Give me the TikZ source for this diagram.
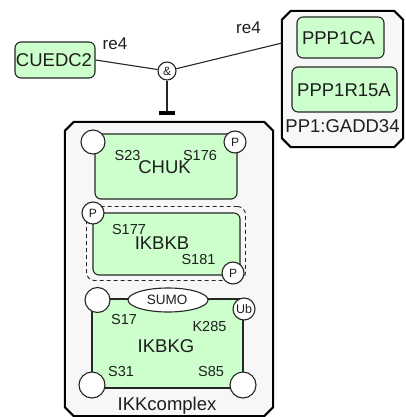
\documentclass[tikz,border=0pt]{standalone}
\usepackage{fontspec}
\setmainfont{Liberation Sans}
\usetikzlibrary{shapes.misc,shapes.geometric,calc}
\definecolor{protfill}{HTML}{CCFFCC}
\definecolor{cplxfill}{HTML}{F7F7F7}
\definecolor{txt}{HTML}{1E1E1E}
\tikzset{
  cplxarea/.style={rectangle, inner sep=0pt},
  cplxline/.style={draw=black, line width=2pt, fill=cplxfill, line join=round},
  prot/.style={rectangle, rounded corners=6pt, draw=black!85, line width=1.1pt, fill=protfill, inner sep=0pt},
  sqprot/.style={rectangle, draw=black!85, line width=1.1pt, fill=protfill, inner sep=0pt},
  activebox/.style={rectangle, rounded corners=8pt, draw=black!85, line width=0.9pt, dash pattern=on 4pt off 3pt, inner sep=0pt},
  site/.style={circle, draw=black!85, line width=1.1pt, fill=white, inner sep=0pt, text=txt, font=\fontsize{12}{12}\selectfont},
  bigtxt/.style={anchor=base, inner sep=0pt, text=txt, font=\fontsize{18.5}{20}\selectfont},
  sitetxt/.style={anchor=base, inner sep=0pt, text=txt, font=\fontsize{14.5}{16}\selectfont},
  conn/.style={draw=black!85, line width=1.1pt},
}
\newcommand{\chamferbox}[2]{% #1 node name, #2 chamfer
  \path[cplxline] ($(#1.north west)+(#2,0)$) -- ($(#1.north east)+(-#2,0)$) -- ($(#1.north east)+(0,#2)$)
    -- ($(#1.south east)+(0,-#2)$) -- ($(#1.south east)+(-#2,0)$) -- ($(#1.south west)+(#2,0)$)
    -- ($(#1.south west)+(0,-#2)$) -- ($(#1.north west)+(0,#2)$) -- cycle;}
\begin{document}
\begin{tikzpicture}[x=1pt,y=-1pt]
\useasboundingbox (0,0) rectangle (405,417);
% complexes
\node[cplxarea, minimum width=208pt, minimum height=294pt] (ikk) at (169,269) {};
\node[cplxarea, minimum width=121pt, minimum height=136pt] (pp1) at (342.5,79) {};
\chamferbox{ikk}{9}
\chamferbox{pp1}{9}
% PP1 members
\node[prot, minimum width=87pt, minimum height=41pt] (ppp1ca) at (340.5,37.5) {};
\node[bigtxt] (ppp1catxt) at (338.5,45) {PPP1CA};
\node[prot, minimum width=105pt, minimum height=45pt] (ppp1r15a) at (344.5,89.5) {};
\node[bigtxt] (ppp1r15atxt) at (344,97) {PPP1R15A};
\node[bigtxt] (pp1txt) at (342.5,132) {PP1:GADD34};
% CUEDC2
\node[prot, minimum width=80pt, minimum height=36pt] (cuedc2) at (55,60) {};
\node[bigtxt] (cuedc2txt) at (54,67) {CUEDC2};
% association
\node[site, minimum size=18pt, font=\fontsize{12}{12}\selectfont] (and) at (167,71) {\&};
\coordinate (pp1in) at (282,43);
\coordinate (inhib) at (167,113);
\draw[conn] (cuedc2.east) -- (and);
\draw[conn] (and) -- (pp1in);
\draw[conn] (and.south) -- (inhib);
\draw[line width=3pt] ([xshift=-8pt]inhib) -- ([xshift=8pt]inhib);
\node[bigtxt, font=\fontsize{17}{18}\selectfont] (re4a) at (115,50) {re4};
\node[bigtxt, font=\fontsize{17}{18}\selectfont] (re4b) at (248.5,34) {re4};
% CHUK
\node[prot, minimum width=142pt, minimum height=65pt] (chuk) at (166,166.5) {};
\node[site, minimum size=24pt] (chuks23) at (93,142) {};
\node[site, minimum size=22pt] (chukp) at (235,142) {P};
\node[sitetxt] (s23) at (127.5,160) {S23};
\node[sitetxt] (s176) at (200,160) {S176};
\node[bigtxt] (chuktxt) at (164.5,173) {CHUK};
% IKBKB
\node[activebox, minimum width=159pt, minimum height=74pt] (ikbkbact) at (166,243.5) {};
\node[prot, minimum width=147pt, minimum height=62pt] (ikbkb) at (166.5,244) {};
\node[site, minimum size=22pt] (ikbkbp1) at (93,213) {P};
\node[site, minimum size=22pt] (ikbkbp2) at (233,273) {P};
\node[sitetxt] (s177) at (129,234) {S177};
\node[bigtxt] (ikbkbtxt) at (162,249) {IKBKB};
\node[sitetxt] (s181) at (198.5,264) {S181};
% IKBKG
\node[sqprot, minimum width=151pt, minimum height=89pt] (ikbkg) at (167.5,343.5) {};
\node[site, minimum size=25pt] (gtl) at (97.5,300) {};
\node[ellipse, draw=black!85, line width=1.1pt, fill=white, inner sep=0pt, minimum width=80pt, minimum height=24pt] (sumo) at (168,300) {};
\node[anchor=base, inner sep=0pt, text=txt, font=\fontsize{13.5}{14}\selectfont] (sumotxt) at (167,304) {SUMO};
\node[site, minimum size=22pt, font=\fontsize{12.5}{13}\selectfont] (ub) at (244,309) {Ub};
\node[site, minimum size=26pt] (gbl) at (92,385) {};
\node[site, minimum size=26pt] (gbr) at (243,385) {};
\node[sitetxt] (s17) at (124,324) {S17};
\node[sitetxt] (k285) at (209.5,331) {K285};
\node[bigtxt] (ikbkgtxt) at (166,352) {IKBKG};
\node[sitetxt] (s31) at (121,376) {S31};
\node[sitetxt] (s85) at (211,376) {S85};
\node[bigtxt] (ikktxt) at (167,410) {IKKcomplex};
\end{tikzpicture}
\end{document}
